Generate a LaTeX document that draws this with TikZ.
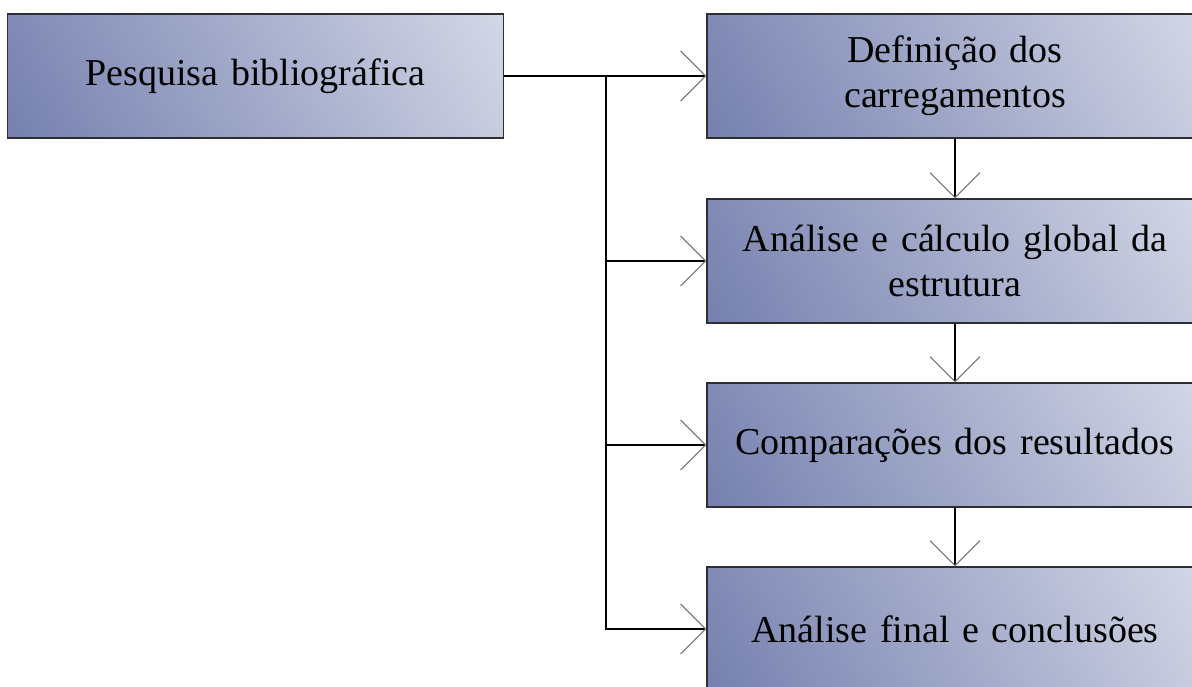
\documentclass[tikz,border=0pt]{standalone}
\usepackage{fontspec}
\setmainfont{Liberation Serif}
\usetikzlibrary{arrows.meta}
\definecolor{boxdark}{RGB}{95,108,162}
\definecolor{boxlight}{RGB}{233,235,243}
\definecolor{boxline}{RGB}{45,45,50}
\pgfdeclareverticalshading{boxshade}{100bp}{color(0bp)=(boxdark); color(100bp)=(boxlight)}
\begin{document}
\begin{tikzpicture}[x=1pt,y=1pt,
  stage/.style={draw=boxline, line width=1.3pt, shading=boxshade, shading angle=-60,
    minimum width=496pt, minimum height=124pt, inner sep=0pt,
    text width=480pt, align=center, font=\fontsize{38}{45}\selectfont},
  arr/.style={line width=1.2pt, -{Straight Barb[length=25pt,width=50pt,line width=1.1pt,color=black!55]}}]
\clip (0,0) rectangle (1192,-686);
\fill[white] (0,0) rectangle (1192,-686);
\node[stage] (p) at (255.5,-76) {Pesquisa bibliográfica};
\node[stage] (d1) at (955,-76) {Definição dos\\carregamentos};
\node[stage] (d2) at (955,-261) {Análise e cálculo global da\\estrutura};
\node[stage] (d3) at (955,-445) {Comparações dos resultados};
\node[stage] (d4) at (955,-629) {Análise final e conclusões};
\coordinate (j) at (606,-76);
\draw[arr] (p.east) -- (d1.west);
\draw[arr] (j) |- (d2.west);
\draw[arr] (j) |- (d3.west);
\draw[arr] (j) |- (d4.west);
\draw[arr] (d1.south) -- (d2.north);
\draw[arr] (d2.south) -- (d3.north);
\draw[arr] (d3.south) -- (d4.north);
\end{tikzpicture}
\end{document}
